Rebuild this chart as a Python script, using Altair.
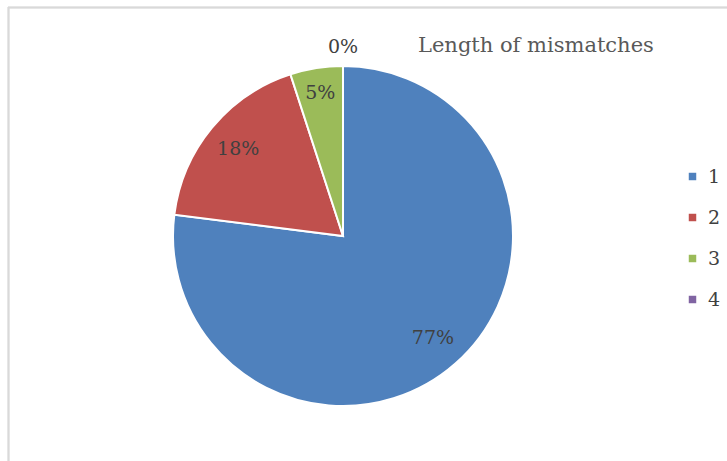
import altair as alt
import pandas as pd
import math

# ---- data ----
categories = ["1", "2", "3", "4"]
values = [77, 18, 5, 0]
title_text = "Length of mismatches"

# ---- styling ----
colors = ["#4F81BD", "#C0504D", "#9BBB59", "#8064A2"]
FONT = "DejaVu Serif"
W, H = 727, 461
CX, CY, R = 343, 236, 170

df = pd.DataFrame({"cat": categories, "value": values, "order": list(range(len(categories)))})

pie = alt.Chart(df).mark_arc(outerRadius=R, stroke="white", strokeWidth=2).encode(
    theta=alt.Theta("value:Q", stack=True),
    color=alt.Color(
        "cat:N",
        scale=alt.Scale(domain=categories, range=colors),
        legend=alt.Legend(
            title=None,
            orient="none",
            legendX=683,
            legendY=167,
            symbolType="square",
            symbolSize=56,
            symbolStrokeWidth=0,
            labelFont=FONT,
            labelFontSize=19,
            labelColor="#404040",
            labelOffset=6,
            rowPadding=21,
        ),
    ),
    order=alt.Order("order:Q"),
    x=alt.value(CX),
    y=alt.value(CY),
)

labels = alt.Chart(df).transform_joinaggregate(
    total="sum(value)"
).transform_window(
    cum="sum(value)", sort=[alt.SortField("order")], frame=[None, 0]
).transform_calculate(
    pct="datum.value / datum.total",
    mid=f"(datum.cum - datum.value / 2) / datum.total * {2 * math.pi}",
    lr="datum.value / datum.total > 0.1 ? 136 : (datum.value / datum.total > 0.01 ? 145 : 189)",
).mark_text(font=FONT, fontSize=19, color="#404040").encode(
    theta=alt.Theta("mid:Q", scale=None),
    radius=alt.Radius("lr:Q", scale=None),
    text=alt.Text("pct:Q", format=".0%"),
    x=alt.value(CX),
    y=alt.value(CY),
)

border_top = alt.Chart(df).mark_rule(color="#d9d9d9", strokeWidth=1.5).encode(
    x=alt.value(8), x2=alt.value(W), y=alt.value(7.5)
)
border_left = alt.Chart(df).mark_rule(color="#d9d9d9", strokeWidth=1.5).encode(
    x=alt.value(8.5), y=alt.value(7), y2=alt.value(H)
)

chart = alt.layer(border_top, border_left, pie, labels).properties(
    width=W,
    height=H,
    padding=0,
    autosize=alt.AutoSizeParams(type="none"),
    title=alt.TitleParams(
        title_text,
        anchor="start",
        dx=418,
        dy=73,
        offset=0,
        baseline="alphabetic",
        font=FONT,
        fontSize=21,
        fontWeight="normal",
        color="#595959",
    ),
).configure_view(stroke=None)

chart.save("out.html", embed_options={"renderer": "svg", "actions": False})
